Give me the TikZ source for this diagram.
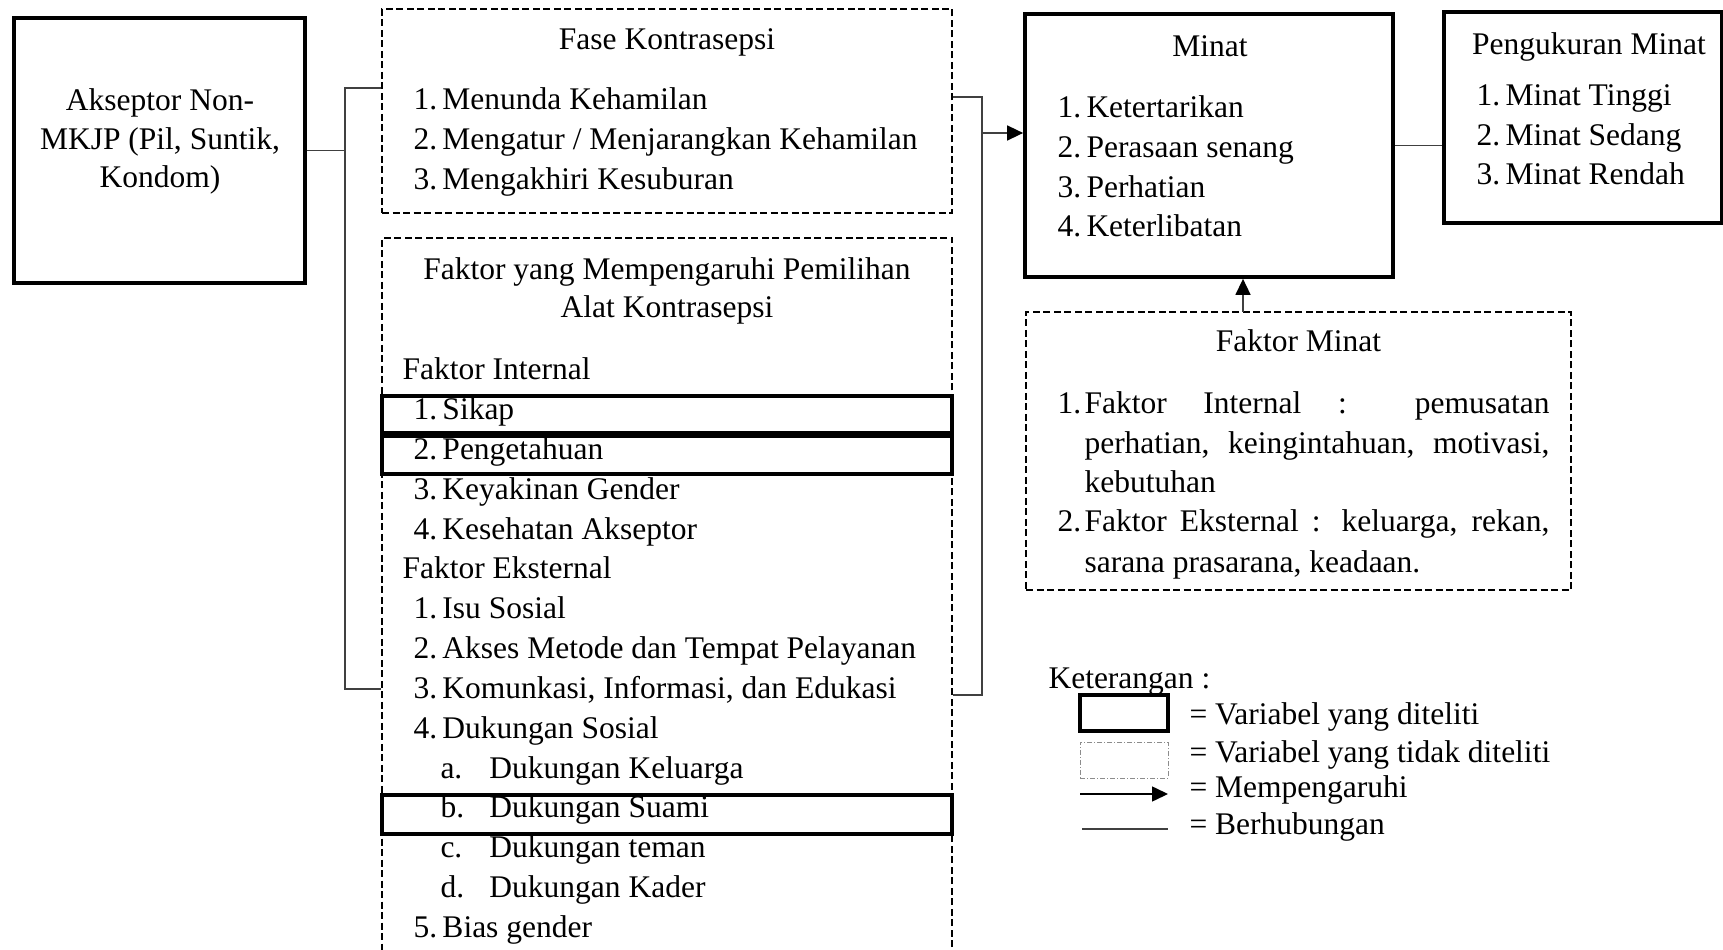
\documentclass[tikz,border=0pt]{standalone}
\usepackage{fontspec}
\setmainfont{Liberation Serif}
\usetikzlibrary{arrows.meta}
\newcommand{\itm}[2]{\makebox[11.6pt][l]{#1}#2}
\newcommand{\hd}[1]{\hspace*{-4.4pt}#1}
\newcommand{\sbi}[2]{\hspace*{10.8pt}\makebox[19.6pt][l]{#1}#2}

\begin{document}
\begin{tikzpicture}[x=0.4pt, y=-0.4pt, >={Triangle[length=6.4pt,width=6pt,black]},
    font=\fontsize{12.6}{15}\selectfont]
  \tikzstyle{thickbox} = [draw, line width=1.5pt, inner sep=0pt]
  \tikzstyle{dashbox} = [draw, line width=0.75pt, dash pattern=on 2.8pt off 1.4pt, inner sep=0pt]
  \tikzstyle{markbox} = [draw, line width=1.3pt, inner sep=0pt, minimum width=228pt]
  \tikzstyle{txt} = [anchor=base west, inner sep=0pt]
  \tikzstyle{ttl} = [anchor=base, inner sep=0pt]
  \tikzstyle{conn} = [black!75, line width=0.6pt]
  \useasboundingbox (0,0) rectangle (1723,950);

  % boxes
  \node[thickbox, minimum width=116.4pt, minimum height=106pt] (akseptor) at (159.5,150.5) {};
  \node[dashbox, minimum width=228pt, minimum height=81.6pt] (fase) at (667,111) {};
  \node[dashbox, minimum width=228pt, minimum height=290.8pt] (faktor) at (667,601.5) {};
  \node[thickbox, minimum width=147.2pt, minimum height=105.2pt] (minat) at (1209,145.5) {};
  \node[thickbox, minimum width=111.2pt, minimum height=84.4pt] (ukur) at (1583,117.5) {};
  \node[dashbox, minimum width=218pt, minimum height=111.2pt] (fminat) at (1298.5,451) {};
  \node[markbox, minimum height=14.8pt] (msikap) at (667,414.5) {};
  \node[markbox, minimum height=15.2pt] (mtahu) at (667,455) {};
  \node[markbox, minimum height=15.6pt] (msuami) at (667,814.5) {};

  % akseptor
  \node[ttl] (ak1) at (160,111) {Akseptor Non-};
  \node[ttl] (ak2) at (160,150) {MKJP (Pil, Suntik,};
  \node[ttl] (ak3) at (160,188) {Kondom)};

  % fase kontrasepsi
  \node[ttl] (fasej) at (667,50) {Fase Kontrasepsi};
  \foreach \t [count=\i] in {Menunda Kehamilan, Mengatur / Menjarangkan Kehamilan, Mengakhiri Kesuburan}
    \node[txt] (fase\i) at (413,70+40*\i) {\itm{\i.}{\t}};

  % faktor pemilihan
  \node[ttl] (fkj1) at (667,280) {Faktor yang Mempengaruhi Pemilihan};
  \node[ttl] (fkj2) at (667,318) {Alat Kontrasepsi};
  \foreach \t [count=\k from 0] in {\hd{Faktor Internal}, \itm{1.}{Sikap}, \itm{2.}{Pengetahuan},
      \itm{3.}{Keyakinan Gender}, \itm{4.}{Kesehatan Akseptor}, \hd{Faktor Eksternal},
      \itm{1.}{Isu Sosial}, \itm{2.}{Akses Metode dan Tempat Pelayanan},
      \itm{3.}{Komunkasi, Informasi, dan Edukasi}, \itm{4.}{Dukungan Sosial},
      \sbi{a.}{Dukungan Keluarga}, \sbi{b.}{Dukungan Suami}, \sbi{c.}{Dukungan teman},
      \sbi{d.}{Dukungan Kader}, \itm{5.}{Bias gender}}
    \node[txt] (fk\k) at (413,380+39.8*\k) {\t};

  % minat
  \node[ttl] (minatj) at (1210,57) {Minat};
  \foreach \t [count=\i] in {Ketertarikan, Perasaan senang, Perhatian, Keterlibatan}
    \node[txt] (minat\i) at (1057,78.4+39.6*\i) {\itm{\i.}{\t}};

  % pengukuran minat
  \node[ttl] (ukurj) at (1589,55) {Pengukuran Minat};
  \foreach \t [count=\i] in {Minat Tinggi, Minat Sedang, Minat Rendah}
    \node[txt] (ukur\i) at (1476,66.5+39.5*\i) {\itm{\i.}{\t}};

  % faktor minat
  \node[ttl] (fmj) at (1298.5,352) {Faktor Minat};
  \node[txt] (fmn1) at (1057,414) {1.};
  \node[txt] (fm1) at (1084,414) {\makebox[186pt][s]{Faktor Internal : pemusatan}};
  \node[txt] (fm2) at (1084,454) {\makebox[186pt][s]{perhatian, keingintahuan, motivasi,}};
  \node[txt] (fm3) at (1084,493) {kebutuhan};
  \node[txt] (fmn2) at (1057,532) {2.};
  \node[txt] (fm4) at (1084,532) {\makebox[186pt][s]{Faktor Eksternal : keluarga, rekan,}};
  \node[txt] (fm5) at (1084,573) {sarana prasarana, keadaan.};

  % connectors
  \coordinate (lt) at (345,88);
  \coordinate (lb) at (345,689);
  \coordinate (rt) at (982,97);
  \coordinate (rb) at (982,695);
  \coordinate (rm) at (982,133);
  \coordinate (fm) at (1243,312);
  \draw[conn] (akseptor.east) -- (akseptor.east -| lt);
  \draw[conn] (fase.west |- lt) -- (lt) -- (lb) -- (faktor.west |- lb);
  \draw[conn] (fase.east |- rt) -- (rt) -- (rb) -- (faktor.east |- rb);
  \draw[conn, ->] (rm) -- (minat.west |- rm);
  \draw[conn] (minat.east) -- (ukur.west |- minat.east);
  \draw[conn, ->] (fm) -- (minat.south -| fm);

  % keterangan
  \node[txt] (ket) at (1048,688) {Keterangan :};
  \node[draw, line width=1.3pt, minimum width=35.2pt, minimum height=14.4pt, inner sep=0pt] (lgsolid) at (1124,713) {};
  \node[draw, black!45, line width=0.4pt, dash pattern=on 2pt off 0.8pt on 0.4pt off 0.8pt,
    minimum width=35.2pt, minimum height=14.4pt, inner sep=0pt] (lgdash) at (1124,760) {};
  \coordinate (lga1) at (1080,794);
  \coordinate (lga2) at (1168,794);
  \coordinate (lgl1) at (1082,829);
  \coordinate (lgl2) at (1168,829);
  \draw[->, line width=0.6pt] (lga1) -- (lga2);
  \draw[conn] (lgl1) -- (lgl2);
  \node[txt] (lgt1) at (1189,724) {= Variabel yang diteliti};
  \node[txt] (lgt2) at (1189,762) {= Variabel yang tidak diteliti};
  \node[txt] (lgt3) at (1189,797) {= Mempengaruhi};
  \node[txt] (lgt4) at (1189,834) {= Berhubungan};
\end{tikzpicture}
\end{document}
